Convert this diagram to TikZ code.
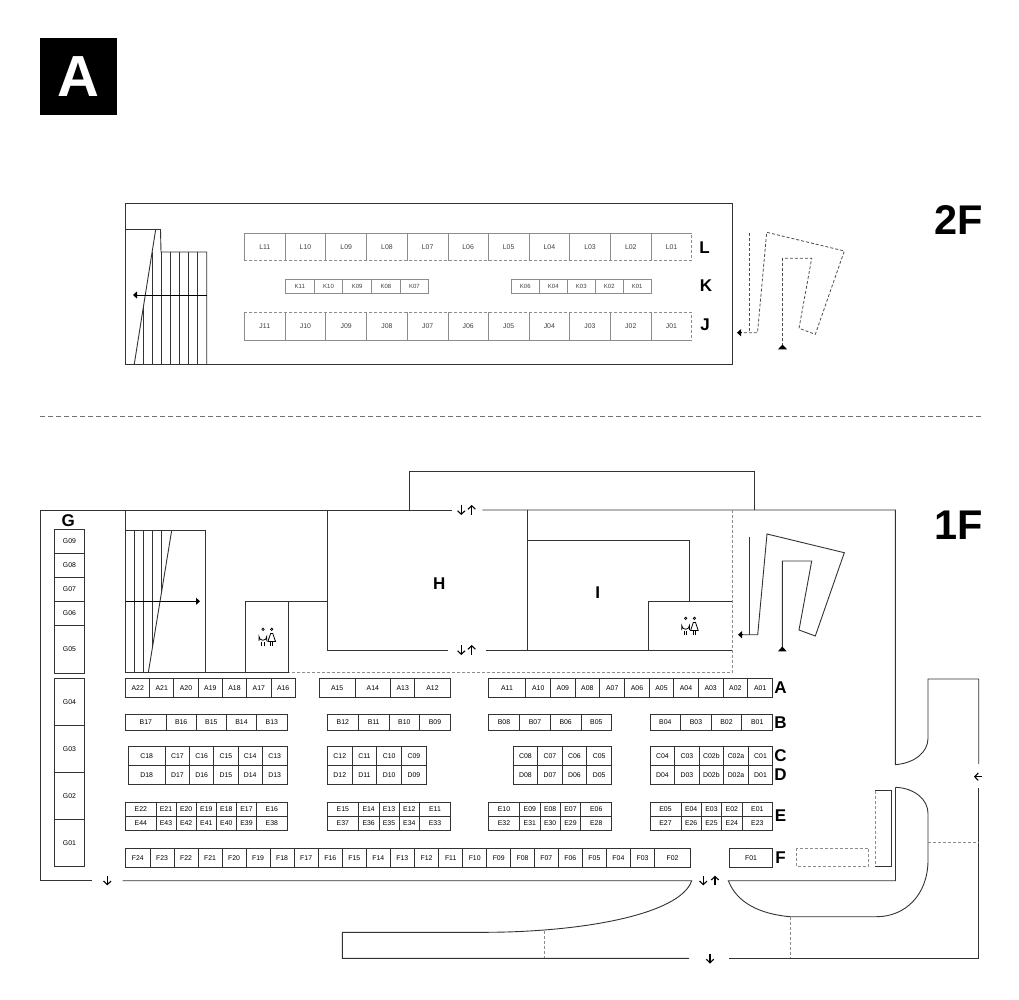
\documentclass[tikz,border=0pt]{standalone}
\usepackage{fontspec}
\setmainfont{Liberation Sans}
\usetikzlibrary{arrows.meta, positioning}
\definecolor{wallgray}{gray}{0.2}
\definecolor{softgray}{gray}{0.55}
\tikzset{
    booth/.style={draw=wallgray, line width=0.8pt, rectangle, inner sep=0pt, outer sep=0pt, font=\fontsize{6.9}{7.5}\selectfont},
    upbooth/.style={booth, draw=none, text=black!75},
    smallbooth/.style={booth, draw=softgray, text=black!75, font=\fontsize{6}{6.5}\selectfont},
    rowmark/.style={inner sep=0pt, font=\fontsize{17}{18}\bfseries\selectfont},
    floormark/.style={inner sep=0pt, anchor=east, font=\fontsize{41.5}{43}\bfseries\selectfont},
    wall/.style={draw=wallgray, line width=0.9pt},
    softwall/.style={draw=softgray, line width=0.8pt},
    softdash/.style={draw=black!45, line width=0.8pt, dash pattern=on 3pt off 2pt},
    doorarrow/.style={line width=1.1pt, -{Straight Barb[length=3.5pt,width=7.5pt]}},
    flatarrow/.style={line width=0.9pt, -{Triangle[length=4pt,width=7pt]}},
    restroom/.pic={
        \draw[line width=0.7pt] (-4,-7.7) circle (1.2);
        \draw[line width=0.8pt] (-8,4) -- (-8,-0.6) arc (180:0:3.9) -- (-0.2,4);
        \draw[line width=0.8pt] (-5.2,4.5) -- (-5.2,9) (-3,4.5) -- (-3,9);
        \draw[line width=0.7pt] (4.7,-7.7) circle (1.2);
        \draw[line width=0.8pt] (0.9,4.5) -- (3.6,-3.5) -- (5.8,-3.5) -- (8.5,4.5) -- cycle;
        \draw[line width=0.8pt] (3.6,4.5) -- (3.6,9) (5.8,4.5) -- (5.8,9);
    }
}
% one row of booths: top, bottom, style, list of name/left/right
\newcommand{\boothrow}[4]{
    \foreach \nm/\xa/\xb in {#4}
        \node (\nm) [#3, minimum width={(\xb-\xa)*1pt}, minimum height={(#2-#1)*1pt}] at ({(\xa+\xb)/2},{(#1+#2)/2}) {\nm};
}
\begin{document}
\begin{tikzpicture}[x=1pt, y=-1pt]
\useasboundingbox (0,0) rectangle (1019,1000);

% Badge and floor names
\node (badge) [fill=black, text=white, inner sep=0pt, minimum size=77pt, font=\fontsize{58}{60}\bfseries\selectfont] at (78.5,76.5) {A};
\node (floor2) [floormark] at (983,220) {2F};
\node (floor1) [floormark] at (983,525.5) {1F};
\draw [draw=black!55, line width=0.7pt, dash pattern=on 5pt off 3pt] (40,416.5) -- (982,416.5);

% 2F walls and stairs
\draw [wall] (125.5,203.5) rectangle (732,364);
\draw [wall] (125.5,229.5) -- (160.5,229.5) -- (161,252) -- (206.7,252) -- (206.7,364);
\draw [wall] (155.7,229.5) -- (134.3,364);
\draw [wall] (143.7,305) -- (143.7,364);
\foreach \xs in {152.7,161.3,170.3,179.3,188.3,197.3}
    \draw [wall] (\xs,252) -- (\xs,364);
\draw [flatarrow] (206.7,295) -- (133,295);

% 2F booths
\boothrow{233}{260.5}{upbooth}{L11/244.3/285.3, L10/285.3/325.7, L09/325.7/366.7, L08/366.7/407.3, L07/407.3/448, L06/448/488.3, L05/488.3/529, L04/529/569.7, L03/569.7/610.3, L02/610.3/651.3, L01/651.3/691.7}
\foreach \nm in {L11,L10,L09,L08,L07,L06,L05,L04,L03,L02,L01}
    \draw [softwall] (\nm.south west) -- (\nm.north west) -- (\nm.north east);
\draw [softdash] (L11.south west) -- (L01.south east) -- (L01.north east);
\boothrow{279}{293.7}{smallbooth}{K11/285.3/314.3, K10/314.3/342.7, K09/342.7/371.7, K08/371.7/400, K07/400/428.7, K06/511.3/539.3, K04/539.3/567.3, K03/567.3/595.3, K02/595.3/623.3, K01/623.3/651}
\boothrow{312.3}{340.3}{upbooth}{J11/244.3/285.3, J10/285.3/325.7, J09/325.7/366.7, J08/366.7/407.3, J07/407.3/448, J06/448/488.3, J05/488.3/529, J04/529/569.7, J03/569.7/610.3, J02/610.3/651.3, J01/651.3/691.7}
\foreach \nm in {J11,J10,J09,J08,J07,J06,J05,J04,J03,J02,J01}
    \draw [softwall] (\nm.north west) -- (\nm.south west) -- (\nm.south east);
\draw [softdash] (J11.north west) -- (J01.north east) -- (J01.south east);
\node (rowL) [rowmark] at (704.5,247.7) {L};
\node (rowK) [rowmark] at (706,285.7) {K};
\node (rowJ) [rowmark] at (705,325) {J};

% 2F escalator
\draw [softdash, draw=black!70] (749.5,233.3) -- (749.5,332.7);
\draw [softdash, draw=black!70] (782.5,346) -- (782.5,258.3) -- (811.7,258.3) -- (799,328.3) -- (815.3,334.3) -- (844.3,251) -- (766.7,232.3) -- (757.5,332.7) -- (741,332.7);
\draw [flatarrow] (741,332.7) -- (737,332.7);
\fill (778,349.3) -- (782.5,344.5) -- (787,349.3) -- cycle;

% 1F outer walls
\draw [wall] (451.7,510) -- (40.3,510) -- (40.3,880.7) -- (91.7,880.7);
\draw [wall] (122.7,880.7) -- (691.7,880.7) .. controls (680,915) and (580,932) .. (486.7,932.3) -- (342.3,932.3) -- (342.3,958.3) -- (689,958.3);
\draw [wall] (729,958.3) -- (978.7,958.3) -- (978.7,788.3);
\draw [wall] (978.7,764) -- (978.7,679) -- (928,679) -- (928,738.3) .. controls (928,752) and (915,763) .. (895.3,764.7) -- (895.3,510) -- (482.3,510);
\draw [wall] (895.5,787.3) .. controls (915,788) and (928,800) .. (928,813.3) -- (928,860) .. controls (928,895) and (905,916.7) .. (876.7,916.7) -- (790,916.7) .. controls (760,914) and (737,903) .. (728.3,880.7) -- (895.5,880.7) -- (895.5,787.3);
\draw [wall] (409.3,510) -- (409.3,471) -- (754.3,471) -- (754.3,510);
\draw [softdash] (544.3,930.7) -- (544.3,958.3);
\draw [softdash] (790.7,916.7) -- (790.7,958.3);
\draw [softdash] (928,842.3) -- (978.7,842.3);
\draw [softdash] (796.7,848.3) rectangle (868.7,866.7);
\draw [softdash] (875,790.7) -- (875,866.7);
\draw [wall, line width=1.1pt] (875,790.7) -- (891.7,790.7) -- (891.7,866.7) -- (875,866.7);

% 1F rooms
\draw [wall] (327.3,510) -- (327.3,650) -- (448.3,650);
\draw [wall] (485.7,650) -- (732.3,650);
\draw [wall] (527.3,510) -- (527.3,650);
\draw [wall] (527.3,540) -- (689.3,540) -- (689.3,601);
\draw [wall] (648,650) -- (648,601) -- (732.3,601);
\draw [softdash] (732.3,510) -- (732.3,672.7) -- (288.3,672.7);
\draw [wall] (125.7,510) -- (125.7,672.7) -- (288.3,672.7) -- (288.3,601.3);
\draw [wall] (245.3,672.7) -- (245.3,601.3) -- (327.3,601.3);
\draw [wall] (125.7,530.3) -- (205.7,530.3) -- (205.7,672.7);
\draw [wall] (171.7,530.3) -- (148.3,672.7);
\draw [wall] (134.7,530.3) -- (134.7,672.7);
\draw [wall] (143.3,530.3) -- (143.3,672.7);
\draw [wall] (152.3,530.3) -- (152.3,648);
\draw [wall] (161.3,530.3) -- (161.3,593);
\draw [flatarrow] (125.7,601.3) -- (200,601.3);
\pic at (267,637) {restroom};
\pic at (689.7,626) {restroom};
\node (roomH) [rowmark] at (439.3,583.3) {H};
\node (roomI) [rowmark] at (597.7,592.3) {I};

% 1F escalator
\draw [wall] (749.7,536.7) -- (749.7,634.7);
\draw [wall] (782.3,650) -- (782.3,561) -- (811.7,561) -- (799,630) -- (815.3,636) -- (844.3,552.7) -- (767,534) -- (757.7,634.7) -- (742,634.7);
\draw [flatarrow] (742,634.7) -- (738,634.7);
\fill (778,651.3) -- (782.3,646.5) -- (786.6,651.3) -- cycle;

% Door arrows
\foreach \ya/\yb in {505/515, 645/655} {
    \draw [doorarrow] (461.3,\ya) -- (461.3,\yb);
    \draw [doorarrow] (471.7,\yb) -- (471.7,\ya);
}
\draw [doorarrow] (703.3,875.7) -- (703.3,885.3);
\draw [doorarrow] (715,885.3) -- (715,875.7);
\draw [doorarrow] (710,954) -- (710,963.5);
\draw [doorarrow] (107.3,875.7) -- (107.3,885.3);
\draw [doorarrow] (981.5,776.7) -- (974,776.7);

% 1F booths
\boothrow{678.3}{697.3}{booth}{A22/125.7/149.7, A21/149.7/173.7, A20/173.7/198.3, A19/198.3/222.3, A18/222.3/246.7, A17/246.7/271, A16/271/295.3, A15/319.3/355, A14/355/390.7, A13/390.7/414.7, A12/414.7/450.3, A11/488.3/525.7, A10/525.7/550.7, A09/550.7/575, A08/575/599.7, A07/599.7/624.7, A06/624.7/649.3, A05/649.3/673.7, A04/673.7/698.3, A03/698.3/723, A02/723/747.7, A01/747.7/772.7}
\boothrow{714.7}{730.3}{booth}{B17/125.7/166, B16/166/196.3, B15/196.3/226.3, B14/226.3/256.7, B13/256.7/287, B12/327.3/358.3, B11/358.3/389, B10/389/419.7, B09/419.7/450.3, B08/488.3/519.7, B07/519.7/550.3, B06/550.3/581, B05/581/611.7, B04/650/680.7, B03/680.7/711.3, B02/711.3/741.7, B01/741.7/772.7}
\boothrow{746.3}{765.3}{booth}{C18/128.3/165, C17/165/189.7, C16/189.7/213.7, C15/213.7/238, C14/238/262.3, C13/262.3/287, C12/327.3/352.3, C11/352.3/376.7, C10/376.7/401.7, C09/401.7/426.3, C08/513.3/537.7, C07/537.7/562.3, C06/562.3/586.7, C05/586.7/611.7, C04/650/674.7, C03/674.7/699, C02b/699/723.7, C02a/723.7/748.3, C01/748.3/772.7}
\boothrow{765.3}{784.3}{booth}{D18/128.3/165, D17/165/189.7, D16/189.7/213.7, D15/213.7/238, D14/238/262.3, D13/262.3/287, D12/327.3/352.3, D11/352.3/376.7, D10/376.7/401.7, D09/401.7/426.3, D08/513.3/537.7, D07/537.7/562.3, D06/562.3/586.7, D05/586.7/611.7, D04/650/674.7, D03/674.7/699, D02b/699/723.7, D02a/723.7/748.3, D01/748.3/772.7}
\boothrow{802.3}{816.3}{booth}{E22/125.7/156, E21/156/176, E20/176/196.3, E19/196.3/216.3, E18/216.3/236.3, E17/236.3/256.7, E16/256.7/287, E15/327.3/358.3, E14/358.3/379, E13/379/399, E12/399/419.7, E11/419.7/450.3, E10/488.3/519.7, E09/519.7/540, E08/540/560.3, E07/560.3/580.7, E06/580.7/611.7, E05/650/681, E04/681/701.3, E03/701.3/721.7, E02/721.7/742, E01/742/772.7}
\boothrow{816.3}{830}{booth}{E44/125.7/156, E43/156/176, E42/176/196.3, E41/196.3/216.3, E40/216.3/236.3, E39/236.3/256.7, E38/256.7/287, E37/327.3/358.3, E36/358.3/379, E35/379/399, E34/399/419.7, E33/419.7/450.3, E32/488.3/519.7, E31/519.7/540, E30/540/560.3, E29/560.3/580.7, E28/580.7/611.7, E27/650/681, E26/681/701.3, E25/701.3/721.7, E24/721.7/742, E23/742/772.7}
\boothrow{848.3}{867.3}{booth}{F24/125.7/150, F23/150/174, F22/174/198, F21/198/222, F20/222/246, F19/246/270, F18/270/294, F17/294/318.3, F16/318.3/342.3, F15/342.3/366.3, F14/366.3/390.3, F13/390.3/414.3, F12/414.3/438.7, F11/438.7/462.7, F10/462.7/486.7, F09/486.7/510.7, F08/510.7/534.3, F07/534.3/558.3, F06/558.3/582.3, F05/582.3/606.5, F04/606.5/630.3, F03/630.3/654.7, F02/654.7/690.5, F01/729.3/772.7}
\foreach \nm/\ya/\yb in {G09/529.3/553.3, G08/553.3/577.3, G07/577.3/601.3, G06/601.3/625.3, G05/625.3/673.3, G04/678.3/725.7, G03/725.7/772.7, G02/772.7/819.7, G01/819.7/866.7}
    \node (\nm) [booth, minimum width=29.6pt, minimum height={(\yb-\ya)*1pt}] at (69.5,{(\ya+\yb)/2}) {\nm};

% Row letters
\node (rowG) [rowmark] at (68.3,520.7) {G};
\node (rowA) [rowmark] at (780.5,687.5) {A};
\node (rowB) [rowmark] at (780.5,722.5) {B};
\node (rowC) [rowmark] at (780.5,756) {C};
\node (rowD) [rowmark] at (780.5,775) {D};
\node (rowE) [rowmark] at (780.5,816) {E};
\node (rowF) [rowmark] at (780.5,858) {F};

\end{tikzpicture}
\end{document}
